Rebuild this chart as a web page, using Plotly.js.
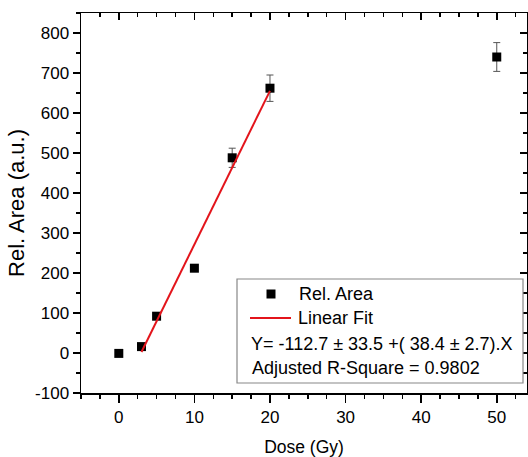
<!DOCTYPE html>
<html>
<head>
<meta charset="utf-8">
<script src="https://cdn.plot.ly/plotly-3.0.1.min.js"></script>
<style>html,body{margin:0;padding:0;background:#fff;}#chart{width:528px;height:457px;}</style>
</head>
<body>
<div id="chart"></div>
<script>
// Data
const doseGy = [0, 3, 5, 10, 15, 20, 50];
const relArea = [-1, 16, 92, 212, 488, 662, 740];
const relAreaErr = [3, 5, 6, 8, 24, 33, 36];
const fitDose = [3, 20];
const fitArea = [2.5, 655.3];
const legendNames = ['Rel. Area', 'Linear Fit'];
const fitEquation = 'Y= -112.7 \u00b1 33.5 +( 38.4 \u00b1 2.7).X';
const fitR2 = 'Adjusted R-Square = 0.9802';
const xTitle = 'Dose (Gy)';
const yTitle = 'Rel. Area (a.u.)';
const xTickVals = [0, 10, 20, 30, 40, 50];
const xTickText = ['0', '10', '20', '30', '40', '50'];
const yTickVals = [-100, 0, 100, 200, 300, 400, 500, 600, 700, 800];
const yTickText = ['-100', '0', '100', '200', '300', '400', '500', '600', '700', '800'];

const FONT = 'Liberation Sans, Arial, sans-serif';
const L = 81, T = 13, W = 446, H = 380;
const px = v => (v - L) / W;
const py = v => (T + H - v) / H;

const traces = [
  {
    x: doseGy, y: relArea, type: 'scatter', mode: 'markers', name: legendNames[0],
    marker: {symbol: 'square', size: 9, color: '#000'},
    error_y: {type: 'data', array: relAreaErr, visible: true, color: '#555', thickness: 1, width: 3.5},
    showlegend: false, cliponaxis: false
  },
  {
    x: fitDose, y: fitArea, type: 'scatter', mode: 'lines', name: legendNames[1],
    line: {color: '#e3141b', width: 2}, showlegend: false
  },
  {x: [], y: [], xaxis: 'x2', yaxis: 'y2', type: 'scatter', showlegend: false, hoverinfo: 'skip'}
];

const tickCommon = {
  showgrid: false, zeroline: false, tickcolor: '#000', tickwidth: 1.5,
  tickfont: {family: FONT, size: 17, color: '#000'}
};

const layout = {
  width: 528, height: 457,
  margin: {l: L, r: 528 - L - W, t: T, b: 457 - T - H, pad: 0},
  paper_bgcolor: '#fff', plot_bgcolor: '#fff',
  showlegend: false,
  font: {family: FONT, color: '#000'},
  xaxis: Object.assign({}, tickCommon, {
    range: [-5, 54], tickmode: 'array', tickvals: xTickVals, ticktext: xTickText,
    ticks: 'outside', ticklen: 8,
    showline: true, linecolor: '#000', linewidth: 1.5, mirror: true,
    minor: {dtick: 2.5, tick0: 0, ticks: 'outside', ticklen: 4, tickcolor: '#000', tickwidth: 1.5},
    title: {text: xTitle, font: {family: FONT, size: 17.5, color: '#000'}, standoff: 16}
  }),
  yaxis: Object.assign({}, tickCommon, {
    range: [-100, 850], tickmode: 'array', tickvals: yTickVals, ticktext: yTickText,
    ticks: 'outside', ticklen: 7,
    showline: true, linecolor: '#000', linewidth: 1.5, mirror: true,
    minor: {dtick: 50, tick0: 0, ticks: 'outside', ticklen: 4, tickcolor: '#000', tickwidth: 1.5},
    title: {text: yTitle, font: {family: FONT, size: 22, color: '#000'}, standoff: 4}
  }),
  xaxis2: {
    overlaying: 'x', side: 'top', anchor: 'y', range: [-5, 54], tick0: 0, dtick: 10,
    ticks: 'inside', ticklen: 7, tickwidth: 1.5, tickcolor: '#000', showticklabels: false,
    showgrid: false, zeroline: false, showline: false,
    minor: {dtick: 2.5, tick0: 0, ticks: 'inside', ticklen: 4, tickcolor: '#000', tickwidth: 1.5}
  },
  yaxis2: {
    overlaying: 'y', side: 'right', anchor: 'x', range: [-100, 850], tick0: 0, dtick: 100,
    ticks: 'inside', ticklen: 7, tickwidth: 1.5, tickcolor: '#000', showticklabels: false,
    showgrid: false, zeroline: false, showline: false,
    minor: {dtick: 50, tick0: 0, ticks: 'inside', ticklen: 4, tickcolor: '#000', tickwidth: 1.5}
  },
  shapes: [
    {type: 'rect', xref: 'paper', yref: 'paper', x0: px(237), x1: px(523), y0: py(383), y1: py(279),
     line: {color: '#888', width: 1.2}, fillcolor: '#fff', layer: 'above'},
    {type: 'rect', xref: 'paper', yref: 'paper', x0: px(266.5), x1: px(275.5), y0: py(298.5), y1: py(289.5),
     line: {width: 0}, fillcolor: '#000', layer: 'above'},
    {type: 'line', xref: 'paper', yref: 'paper', x0: px(250), x1: px(291), y0: py(318), y1: py(318),
     line: {color: '#e3141b', width: 2}, layer: 'above'}
  ],
  annotations: [
    {text: legendNames[0], x: px(297), y: py(294)},
    {text: legendNames[1], x: px(296), y: py(318)},
    {text: fitEquation, x: px(249), y: py(344)},
    {text: fitR2, x: px(250), y: py(368)}
  ].map(a => Object.assign({xref: 'paper', yref: 'paper', xanchor: 'left', yanchor: 'middle',
    showarrow: false, font: {family: FONT, size: 18, color: '#000'}}, a))
};

Plotly.newPlot('chart', traces, layout, {staticPlot: true, displayModeBar: false});
</script>
</body>
</html>
